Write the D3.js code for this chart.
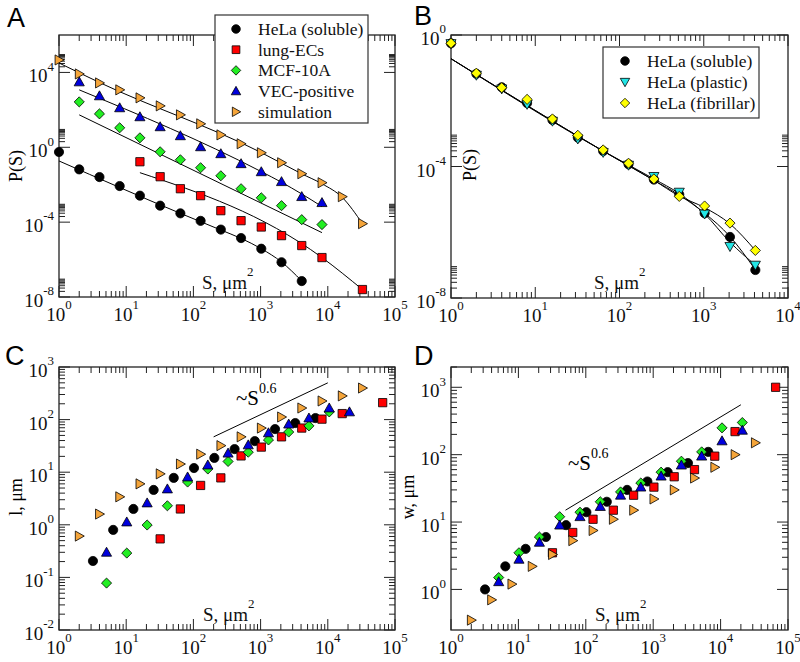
<!DOCTYPE html>
<html><head><meta charset="utf-8">
<script src="https://cdn.jsdelivr.net/npm/d3@7"></script>
<style>body{margin:0;background:#fff} svg{display:block} .sf{font-family:"Liberation Serif","Times New Roman",Tinos,serif}</style>
</head><body>
<svg id="c" width="800" height="662"></svg>
<script>
// ---------------- DATA ----------------
// Panel A / B : size distribution P(S)
const helaS = [1,2,4,8,16,32,64,128,256,512,1024,2048,4096];
const helaP = [0.56,0.066,0.0257,0.0085,0.0026,7.6e-4,2.95e-4,1.17e-4,4.0e-5,1.41e-5,3.8e-6,7.2e-7,7.1e-8];
const lungS = [16,32,64,128,256,512,1024,2048,4096,8192,32768];
const lungP = [0.169,0.0267,0.0061,0.0026,4.1e-4,1.2e-4,5.5e-5,1.9e-5,5.6e-6,1.28e-6,2.5e-8];
const mcfS = [2,4,8,16,32,64,128,256,512,1024,2048,4096,8192];
const mcfP = [267,61,11,3.2,0.575,0.215,0.081,0.030,0.0061,0.0020,7.6e-4,1.36e-4,7.4e-5];
const vecS = [2,4,8,16,32,64,128,256,512,1024,2048,4096,8192];
const vecP = [3110,558,128,42.4,12.4,4.1,1.06,0.45,0.132,0.049,0.0145,0.0023,0.0011];
const simS = [1,2,4,8,16,32,64,128,256,512,1024,2048,4096,8192,16384,32768];
const simP = [46400,8300,2750,1170,437,163,54,17.9,4.6,1.54,0.51,0.149,0.0386,0.0128,0.0023,8.3e-5];
// fitted curves in panel A
const fitHelaS = [1,64,256,512,1024,2048,4096];
const fitHelaP = [0.186,2.95e-4,3.8e-5,1.35e-5,3.8e-6,7.4e-7,7.2e-8];
const fitLungS = [16,8192,32768];
const fitLungP = [0.044,1.28e-6,2.5e-8];
const fitMcfS = [2,8192];
const fitMcfP = [54,2.75e-5];
const fitVecS = [2,1024,2048,4096,8192];
const fitVecP = [1170,0.05,0.0135,0.0032,6.8e-4];
const fitSimS = [1,4,1024,4096,8192,16384,32768];
const fitSimP = [32000,2900,0.52,0.038,0.0112,0.0021,8.3e-5];
// Panel B
const plasticS = [1,2,4,8,16,32,64,128,256,512,1024,2048,4096];
const plasticP = [0.55,0.06,0.023,0.0078,0.0024,6.9e-4,2.7e-4,1.1e-4,5.0e-5,1.66e-5,3.6e-6,3.7e-7,1.0e-7];
const fibS = [1,2,4,8,16,32,64,128,256,512,1024,2048,4096];
const fibP = [0.56,0.069,0.025,0.011,0.0028,8.9e-4,3.2e-4,1.26e-4,4.2e-5,1.23e-5,6.3e-6,1.9e-6,2.8e-7];
const fitBS = [1,64,256,512,1024,2048,4096];
const fitBsolP = [0.19,2.95e-4,3.8e-5,1.35e-5,3.8e-6,7.4e-7,7.2e-8];
const fitBplaP = [0.19,2.95e-4,4.2e-5,1.5e-5,3.6e-6,5.0e-7,1.0e-7];
const fitBfibP = [0.19,2.95e-4,3.8e-5,1.26e-5,5.6e-6,1.8e-6,2.8e-7];
// Panel C : l(S)
const cHelaS = [3.2,6.4,12.8,25.6,51,102,205,410,820,1640,3280,6550];
const cHelaL = [0.205,0.8,2.0,4.6,7.8,12,18.7,27.5,39,66,86,107];
const cLungS = [32,64,128,256,512,1024,2048,4096,8192,16384,65536];
const cLungL = [0.54,2.0,5.6,7.8,20.4,30,47,69,102,130,210];
const cMcfS = [5.1,10.2,20.5,41,82,164,328,655,1310,2620,5240,10500];
const cMcfL = [0.078,0.29,0.99,2.3,6.5,11.5,16,24,41,58,76,140];
const cVecS = [5.1,10.2,20.5,41,82,164,328,655,1310,2620,5240,10500,21000];
const cVecL = [0.30,1.13,2.6,4.8,8.1,13.7,23,33,56,82,107,166,140];
const cSimS = [2,4,8,16,32,64,128,256,512,1024,2048,4096,8192,16384,32768];
const cSimL = [0.61,1.6,3.4,6.0,9.3,14.3,22,32,47,69,112,166,226,282,398];
const cGuideS = [200,10000];
const cGuideL = [47,500];
// Panel D : w(S)
const dHelaS = [3.2,6.4,12.8,25.6,51,102,205,410,820,1640,3280,6550];
const dHelaW = [1.0,2.2,4,6,9,14,20,30,40,55,75,110];
const dLungS = [32,64,128,256,512,1024,2048,4096,8192,16384,65536];
const dLungW = [3.5,7,11,15,25,33,47,60,95,220,1000];
const dMcfS = [5.1,10.2,20.5,41,82,164,328,655,1310,2620,5240,10500,21000];
const dMcfW = [1.5,3.5,6,12,14,20,28,38,55,80,110,250,300];
const dVecS = [5.1,10.2,20.5,41,82,164,328,655,1310,2620,5240,10500,21000];
const dVecW = [1.3,2.8,5,9,12,17,25,33,48,70,95,160,230];
const dSimS = [2,4,8,16,32,64,128,256,512,1024,2048,4096,8192,16384,32768];
const dSimW = [0.35,0.7,1.2,2.2,3.3,5.3,7.5,11,15,22,30,45,65,100,150];
const dGuideS = [50,20000];
const dGuideW = [15,550];
// tick label values
const xTicksA = [1,10,100,1e3,1e4,1e5];
const yTicksA = [1e-8,1e-4,1,1e4];
const xTicksB = [1,10,100,1e3,1e4];
const yTicksB = [1e-8,1e-4,1];
const xTicksC = [1,10,100,1e3,1e4,1e5];
const yTicksC = [1e-2,1e-1,1,10,100,1e3];
const xTicksD = [1,10,100,1e3,1e4,1e5];
const yTicksD = [1,10,100,1e3];
const legendA = ["HeLa (soluble)","lung-ECs","MCF-10A","VEC-positive","simulation"];
const legendB = ["HeLa (soluble)","HeLa (plastic)","HeLa (fibrillar)"];

// ---------------- DRAWING ----------------
const svg = d3.select("#c");
const sans = "'Liberation Sans',Arial,sans-serif";
const COL = {black:"#000000", red:"#ff0000", green:"#22ee22", blue:"#0000dd", orange:"#f5a53a", cyan:"#22e6e6", yellow:"#ffff00"};

function sym(type, r) {
  r = r || 4.6;
  switch(type){
    case "circle": return `M${r},0A${r},${r} 0 1,1 ${-r},0A${r},${r} 0 1,1 ${r},0Z`;
    case "square": { const s=r*0.9; return `M${-s},${-s}H${s}V${s}H${-s}Z`; }
    case "diamond": { const s=r*1.1; return `M0,${-s}L${s},0L0,${s}L${-s},0Z`; }
    case "up": return `M0,${-r*1.1}L${r*1.1},${r*0.85}L${-r*1.1},${r*0.85}Z`;
    case "down": return `M0,${r*1.1}L${r*1.1},${-r*0.85}L${-r*1.1},${-r*0.85}Z`;
    case "right": return `M${r*1.1},0L${-r*0.85},${r*1.1}L${-r*0.85},${-r*1.1}Z`;
  }
}

function expLabel(sel, v, fs) {
  const e = Math.round(Math.log10(v));
  sel.append("tspan").attr("font-size", fs).text("10");
  sel.append("tspan").attr("font-size", fs*0.68).attr("dy", -fs*0.62).text(e);
}

function panel(p) {
  const x = d3.scaleLog().domain(p.xdom).range([p.x0, p.x1]);
  const y = d3.scaleLog().domain(p.ydom).range([p.y1, p.y0]);
  const g = svg.append("g");
  const tickList = (majors, dom) => {
    const out = [];
    majors.forEach(m => {
      out.push({v:m, major:true});
      for (let k=2;k<=9;k++) out.push({v:k*m, major:false});
    });
    return out.filter(t => t.v >= dom[0]*0.9999 && t.v <= dom[1]*1.0001);
  };
  const xt = tickList(p.xMajor, p.xdom), yt = tickList(p.yMajor, p.ydom);
  const ML = 11, mL = 6;
  const tk = g.append("g").attr("stroke","#222").attr("stroke-width",1);
  xt.forEach(t => {
    const xx = x(t.v), L = t.major?ML:mL;
    tk.append("line").attr("x1",xx).attr("x2",xx).attr("y1",p.y1).attr("y2",p.y1-L);
    tk.append("line").attr("x1",xx).attr("x2",xx).attr("y1",p.y0).attr("y2",p.y0+L);
  });
  yt.forEach(t => {
    const yy = y(t.v), L = t.major?ML:mL;
    tk.append("line").attr("y1",yy).attr("y2",yy).attr("x1",p.x0).attr("x2",p.x0+L);
    tk.append("line").attr("y1",yy).attr("y2",yy).attr("x1",p.x1).attr("x2",p.x1-L);
  });
  g.append("rect").attr("x",p.x0).attr("y",p.y0).attr("width",p.x1-p.x0).attr("height",p.y1-p.y0)
    .attr("fill","none").attr("stroke","#222").attr("stroke-width",1.3);
  p.xMajor.forEach(v => {
    const t = g.append("text").attr("class","sf").attr("x", x(v)).attr("y", p.y1+24).attr("text-anchor","middle").attr("fill","#111");
    expLabel(t, v, 19);
  });
  p.yMajor.forEach(v => {
    const t = g.append("text").attr("class","sf").attr("x", p.x0-5).attr("y", y(v)+10).attr("text-anchor","end").attr("fill","#111");
    expLabel(t, v, 19);
  });
  g.append("text").attr("x", p.lx).attr("y", p.ly).attr("font-family", sans).attr("font-size", 27).text(p.letter);
  g.append("text").attr("class","sf").attr("transform", `translate(${p.ytx},${p.yty}) rotate(-90)`).attr("text-anchor","middle")
    .attr("font-size", 18).text(p.ytitle);
  const xtT = g.append("text").attr("class","sf").attr("x", p.xtx).attr("y", p.xty).attr("fill","#111");
  xtT.append("tspan").attr("font-size", 19).text("S, \u03bcm");
  xtT.append("tspan").attr("font-size", 13).attr("dy", -13).text("2");
  return {g, x, y};
}

function line(P, S, V, curve) {
  const pts = S.map((s,i)=>[P.x(s), P.y(V[i])]);
  P.g.append("path").attr("d", d3.line().curve(curve || d3.curveMonotoneX)(pts))
    .attr("fill","none").attr("stroke","#000").attr("stroke-width",1);
}
function points(P, S, V, type, color, r) {
  P.g.append("g").selectAll("path").data(S.map((s,i)=>[s,V[i]])).join("path")
    .attr("transform", d => `translate(${P.x(d[0])},${P.y(d[1])})`)
    .attr("d", sym(type, r)).attr("fill", color).attr("stroke","#000").attr("stroke-width",0.8);
}
function legend(P, box, items) {
  const g = P.g.append("g");
  g.append("rect").attr("x",box.x).attr("y",box.y).attr("width",box.w).attr("height",box.h)
    .attr("fill","#fff").attr("stroke","#333").attr("stroke-width",1.2);
  items.forEach((it,i) => {
    const yy = box.y + box.first + i*box.dy;
    g.append("path").attr("transform",`translate(${box.x+box.sx},${yy})`).attr("d", sym(it.type, 4.3))
      .attr("fill", it.color).attr("stroke","#000").attr("stroke-width",0.8);
    g.append("text").attr("class","sf").attr("x", box.x+box.tx).attr("y", yy+6)
      .attr("font-size", 17.5).attr("fill","#111").text(it.label);
  });
}

// ---- Panel A
const A = panel({x0:59,x1:395,y0:35,y1:297,xdom:[1,1e5],ydom:[1e-8,1e6],xMajor:xTicksA,yMajor:yTicksA,
  letter:"A",lx:7,ly:27,ytitle:"P(S)",ytx:22,yty:166,xtx:202,xty:289});
line(A, fitHelaS, fitHelaP); line(A, fitLungS, fitLungP); line(A, fitMcfS, fitMcfP);
line(A, fitVecS, fitVecP); line(A, fitSimS, fitSimP);
points(A, helaS, helaP, "circle", COL.black);
points(A, lungS, lungP, "square", COL.red);
points(A, mcfS, mcfP, "diamond", COL.green);
points(A, vecS, vecP, "up", COL.blue);
points(A, simS, simP, "right", COL.orange);
legend(A, {x:215,y:15,w:153,h:108,first:14,dy:20.7,sx:21,tx:43}, [
  {type:"circle",color:COL.black,label:legendA[0]},
  {type:"square",color:COL.red,label:legendA[1]},
  {type:"diamond",color:COL.green,label:legendA[2]},
  {type:"up",color:COL.blue,label:legendA[3]},
  {type:"right",color:COL.orange,label:legendA[4]}]);

// ---- Panel B
const B = panel({x0:451,x1:788,y0:35,y1:298,xdom:[1,1e4],ydom:[1e-8,1],xMajor:xTicksB,yMajor:yTicksB,
  letter:"B",lx:414,ly:25,ytitle:"P(S)",ytx:476,yty:165,xtx:594,xty:289});
line(B, fitBS, fitBsolP); line(B, fitBS, fitBplaP); line(B, fitBS, fitBfibP);
points(B, helaS, helaP, "circle", COL.black);
points(B, plasticS, plasticP, "down", COL.cyan);
points(B, fibS, fibP, "diamond", COL.yellow);
legend(B, {x:603,y:47,w:156,h:71,first:14,dy:21,sx:22,tx:44}, [
  {type:"circle",color:COL.black,label:legendB[0]},
  {type:"down",color:COL.cyan,label:legendB[1]},
  {type:"diamond",color:COL.yellow,label:legendB[2]}]);

// ---- Panel C
const C = panel({x0:59,x1:395,y0:367,y1:630,xdom:[1,1e5],ydom:[1e-2,1e3],xMajor:xTicksC,yMajor:yTicksC,
  letter:"C",lx:5,ly:365,ytitle:"l, \u03bcm",ytx:22,yty:497,xtx:203,xty:621});
line(C, cGuideS, cGuideL, d3.curveLinear);
points(C, cHelaS, cHelaL, "circle", COL.black);
points(C, cLungS, cLungL, "square", COL.red);
points(C, cMcfS, cMcfL, "diamond", COL.green);
points(C, cVecS, cVecL, "up", COL.blue);
points(C, cSimS, cSimL, "right", COL.orange);
{ const t = C.g.append("text").attr("class","sf").attr("x",236).attr("y",405);
  t.append("tspan").attr("font-size",21).text("~S");
  t.append("tspan").attr("font-size",14).attr("dy",-12).text("0.6"); }

// ---- Panel D
const D = panel({x0:451,x1:788,y0:367,y1:630,xdom:[1,1e5],ydom:[0.25,2000],xMajor:xTicksD,yMajor:yTicksD,
  letter:"D",lx:414,ly:365,ytitle:"w, \u03bcm",ytx:414,yty:497,xtx:595,xty:621});
line(D, dGuideS, dGuideW, d3.curveLinear);
points(D, dHelaS, dHelaW, "circle", COL.black);
points(D, dLungS, dLungW, "square", COL.red);
points(D, dMcfS, dMcfW, "diamond", COL.green);
points(D, dVecS, dVecW, "up", COL.blue);
points(D, dSimS, dSimW, "right", COL.orange);
{ const t = D.g.append("text").attr("class","sf").attr("x",568).attr("y",470);
  t.append("tspan").attr("font-size",21).text("~S");
  t.append("tspan").attr("font-size",14).attr("dy",-12).text("0.6"); }
</script>
</body></html>
